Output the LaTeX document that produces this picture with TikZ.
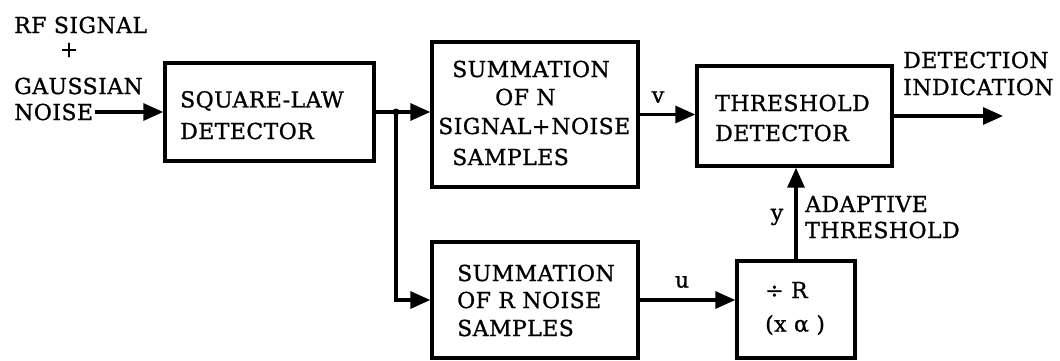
\documentclass[tikz,border=0pt]{standalone}
\usepackage{fontspec}
\setmainfont{DejaVu Serif}[LetterSpace=2,FakeBold=1]
\usetikzlibrary{arrows.meta}
\begin{document}
\begin{tikzpicture}[x=1pt,y=-1pt,
  blk/.style={draw,line width=3.4pt,inner sep=0},
  txt/.style={anchor=west,inner sep=0,font=\fontsize{22}{26}\selectfont},
  ctxt/.style={inner sep=0,font=\fontsize{22}{26}\selectfont},
  wire/.style={line width=3.2pt},
  arr/.style={wire,-{Triangle[length=20pt,width=17pt]}}]
\useasboundingbox (0,0) rectangle (1060,360);
% boxes
\node[blk,minimum width=209pt,minimum height=98pt] (sq) at (269.5,112) {};
\node[blk,minimum width=206pt,minimum height=145pt] (sumN) at (535,114.5) {};
\node[blk,minimum width=195pt,minimum height=100pt] (thr) at (794.5,116) {};
\node[blk,minimum width=206pt,minimum height=116pt] (sumR) at (535,300) {};
\node[blk,minimum width=118pt,minimum height=97pt] (div) at (796,309.5) {};
% input text
\node[txt] (t1) at (14,25) {RF SIGNAL};
\node[ctxt] (t2) at (69,50) {+};
\node[txt] (t3) at (14,86) {GAUSSIAN};
\node[txt] (t4) at (14,112) {NOISE};
% square law
\node[txt] (s1) at (180,101) {SQUARE-LAW};
\node[txt] (s2) at (180,131) {DETECTOR};
% sum N
\node[txt] (n1) at (452,69) {SUMMATION};
\node[txt] (n2) at (495,97) {OF N};
\node[txt] (n3) at (438,126) {SIGNAL+\hspace{1pt}NOISE};
\node[txt] (n4) at (452,157) {SAMPLES};
% threshold
\node[txt] (h1) at (715,103) {THRESHOLD};
\node[txt] (h2) at (715,133) {DETECTOR};
\node[txt] (d1) at (903,60) {DETECTION};
\node[txt] (d2) at (903,87) {INDICATION};
% sum R
\node[txt] (r1) at (457,273) {SUMMATION};
\node[txt] (r2) at (457,300) {OF R NOISE};
\node[txt] (r3) at (457,328) {SAMPLES};
% divider
\node[txt] (v1) at (765,290) {÷ R};
\node[txt] (v2) at (765,325) {(x α )};
% adaptive
\node[txt] (a1) at (805,204) {ADAPTIVE};
\node[txt] (a2) at (805,230) {THRESHOLD};
% signal labels
\node[ctxt] (lv) at (658,97) {v};
\node[ctxt] (lu) at (682,282) {u};
\node[ctxt] (ly) at (777,217) {y};
% connectors
\coordinate (j) at (396,112);
\coordinate (out) at (1003,116);
\draw[arr] ([xshift=2pt]t4.east) -- (t4.east -| sq.west);
\draw[wire] (sq.east) -- (j);
\draw[arr] (j) -- (j -| sumN.west);
\draw[arr] (j) |- (sumR.west);
\fill (j) circle (3.5pt);
\draw[arr] (sumN.east) -- (sumN.east -| thr.west);
\draw[arr] (thr.east) -- (out);
\draw[arr] (sumR.east) -- (sumR.east -| div.west);
\draw[arr] (div.north) -- (div.north |- thr.south);
\end{tikzpicture}
\end{document}
